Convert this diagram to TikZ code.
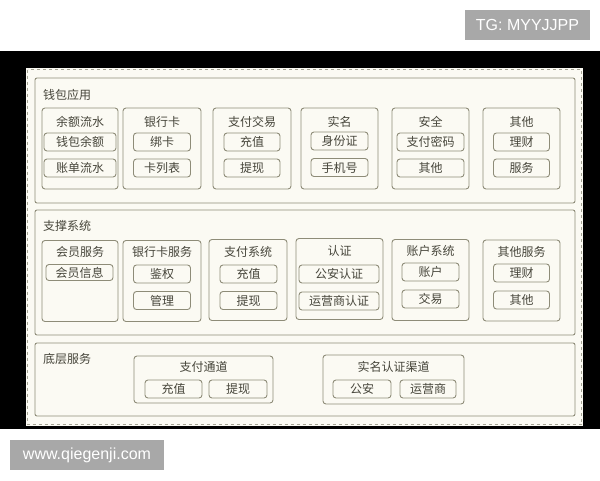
\documentclass[tikz,border=0pt]{standalone}
\usepackage{fontspec}
\setmainfont{Noto Sans CJK SC}
\newfontfamily\wmfont{Liberation Sans}
\definecolor{edge}{HTML}{8E8C78}
\definecolor{ink}{HTML}{46453A}
\definecolor{paper}{HTML}{FBFAF3}
\definecolor{wmgray}{HTML}{A8A8A8}
\tikzset{
  layer/.style={draw=edge,rounded corners=2,line width=0.9,inner sep=0,minimum width=540},
  grp/.style={draw=edge,rounded corners=3,line width=0.9,inner sep=0,minimum height=81},
  item/.style={draw=edge,rounded corners=3,line width=0.9,inner sep=0,minimum height=18,text=ink,font=\fontsize{12}{12}\selectfont},
  head/.style={text=ink,inner sep=0,font=\fontsize{12}{12}\selectfont},
  wm/.style={fill=wmgray,text=white,inner sep=0,minimum height=30,font=\wmfont\fontsize{16}{16}\selectfont}
}
\begin{document}
\begin{tikzpicture}[x=1pt,y=-1pt]
            \useasboundingbox[fill=white] (0,0) rectangle (600,480);
            \fill[black] (0,51) rectangle (600,429);
            \fill[paper] (26,68) rectangle (583,426);
            \draw[dashed,edge!80,line width=0.8] (27.5,69.5) rectangle (581.5,424.5);
            \node[wm,minimum width=125] (tg) at (527.5,25) {TG: MYYJJPP};
            \node[wm,minimum width=154] (www) at (87,455) {www.qiegenji.com};
            % 钱包应用
            \node[layer,minimum height=125] (wallet) at (305,140.5) {};
            \node[head,anchor=west] (walletlbl) at (43,95) {钱包应用};
            \node[grp,minimum width=76] (yels) at (80,148.5) {};
            \node[head] at (80,122) {余额流水};
            \node[item,minimum width=72] (qbye) at (80,142) {钱包余额};
            \node[item,minimum width=72] (zdls) at (80,168) {账单流水};
            \node[grp,minimum width=78] (yhk) at (162,148.5) {};
            \node[head] at (162,122) {银行卡};
            \node[item,minimum width=57] (bk) at (162,142) {绑卡};
            \node[item,minimum width=57] (klb) at (162,168) {卡列表};
            \node[grp,minimum width=78] (zfjy) at (252,148.5) {};
            \node[head] at (252,122) {支付交易};
            \node[item,minimum width=56] (jycz) at (252,142) {充值};
            \node[item,minimum width=56] (jytx) at (252,168) {提现};
            \node[grp,minimum width=77] (sm) at (339.5,148.5) {};
            \node[head] at (339.5,122) {实名};
            \node[item,minimum width=57] (sfz) at (339.5,141) {身份证};
            \node[item,minimum width=57] (sjh) at (339.5,167.5) {手机号};
            \node[grp,minimum width=77] (aq) at (430.5,148.5) {};
            \node[head] at (430.5,122) {安全};
            \node[item,minimum width=67] (zfmm) at (430.5,142) {支付密码};
            \node[item,minimum width=67] (aqqt) at (430.5,168) {其他};
            \node[grp,minimum width=77] (qt) at (521.5,148.5) {};
            \node[head] at (521.5,122) {其他};
            \node[item,minimum width=56] (qtlc) at (521.5,142) {理财};
            \node[item,minimum width=56] (qtfw) at (521.5,168) {服务};
            % 支撑系统
            \node[layer,minimum height=125] (support) at (305,272.5) {};
            \node[head,anchor=west] (supportlbl) at (43,226) {支撑系统};
            \node[grp,minimum width=76] (hyfw) at (80,281) {};
            \node[head] at (80,252) {会员服务};
            \node[item,minimum width=67,minimum height=16] (hyxx) at (79.5,272.5) {会员信息};
            \node[grp,minimum width=78] (yhkfw) at (162,281) {};
            \node[head] at (162,252) {银行卡服务};
            \node[item,minimum width=57] (jq) at (162,274) {鉴权};
            \node[item,minimum width=57] (gl) at (162,300.5) {管理};
            \node[grp,minimum width=78] (zfxt) at (248,280) {};
            \node[head] at (248,252) {支付系统};
            \node[item,minimum width=57] (xtcz) at (248.5,274) {充值};
            \node[item,minimum width=57] (xttx) at (248.5,300.5) {提现};
            \node[grp,minimum width=87] (rz) at (339.5,279) {};
            \node[head] at (339.5,251) {认证};
            \node[item,minimum width=80] (garz) at (339,274) {公安认证};
            \node[item,minimum width=80] (yysrz) at (339,301) {运营商认证};
            \node[grp,minimum width=77] (zhxt) at (430.5,280) {};
            \node[head] at (430.5,251) {账户系统};
            \node[item,minimum width=57] (zh) at (430.5,272) {账户};
            \node[item,minimum width=57] (jy) at (430.5,299) {交易};
            \node[grp,minimum width=77] (qtfwu) at (521.5,280.5) {};
            \node[head] at (521.5,252) {其他服务};
            \node[item,minimum width=56] (fwlc) at (521.5,273) {理财};
            \node[item,minimum width=56] (fwqt) at (521.5,300) {其他};
            % 底层服务
            \node[layer,minimum height=73] (base) at (305,379.5) {};
            \node[head,anchor=west] (baselbl) at (43,359) {底层服务};
            \node[grp,minimum width=139,minimum height=47] (zftd) at (203.5,379.5) {};
            \node[head] at (203.5,367) {支付通道};
            \node[item,minimum width=57] (tdcz) at (173.5,389) {充值};
            \node[item,minimum width=58] (tdtx) at (238,389) {提现};
            \node[grp,minimum width=141,minimum height=49] (smqd) at (393.5,379.5) {};
            \node[head] at (393.5,367) {实名认证渠道};
            \node[item,minimum width=58] (ga) at (362,389) {公安};
            \node[item,minimum width=56] (yys) at (428,389) {运营商};
\end{tikzpicture}
\end{document}
